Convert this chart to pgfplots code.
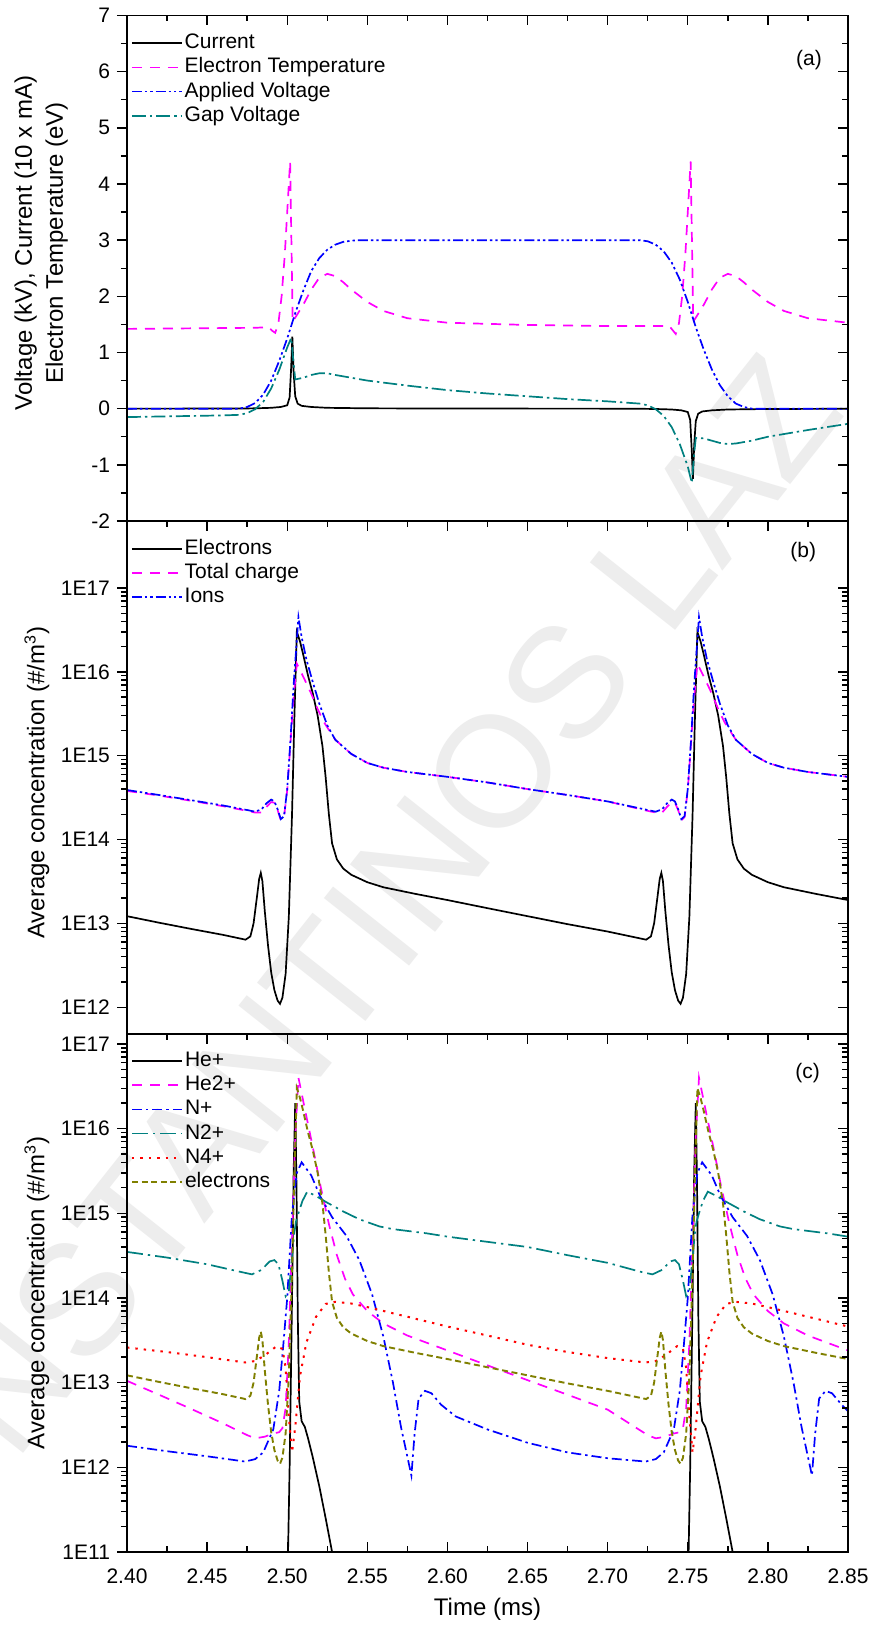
\documentclass[border=0pt]{standalone}
\usepackage{fontspec}
\setmainfont{Liberation Sans}
\usepackage{pgfplots}
\pgfplotsset{compat=1.18}

\definecolor{cmag}{RGB}{255,0,255}
\definecolor{cblue}{RGB}{0,0,255}
\definecolor{cteal}{RGB}{0,128,128}
\definecolor{cred}{RGB}{255,0,0}
\definecolor{colive}{RGB}{128,128,0}

\pgfplotsset{
  panel/.style={
    scale only axis, width=360.5pt, anchor=north west,
    xmin=2.40, xmax=2.85,
    xtick={2.40,2.45,2.50,2.55,2.60,2.65,2.70,2.75,2.80,2.85},
    minor x tick num=1,
    axis line style={line width=0.75pt},
    major tick length=5pt, minor tick length=3pt,
    tick style={black, line width=0.7pt},
    tick label style={font=\fontsize{10.5}{12}\selectfont},
    /pgf/number format/assume math mode=true,
    label style={font=\fontsize{12}{15.5}\selectfont},
  },
  mainax/.style={panel, tick align=outside, xtick=\empty, ytick pos=left,
    legend cell align=left,
    legend style={draw=none, fill=none, anchor=north west, inner sep=0pt, row sep=0pt,
      font=\fontsize{10.5}{12}\selectfont,
      nodes={inner sep=1pt, text height=7.8pt, text depth=2.3pt}},
    legend image code/.code={\draw[##1] (0pt,0pt) -- (25pt,0pt);},
  },
  frameax/.style={panel, tick align=inside, ytick pos=right, yticklabels={}},
  sblack/.style={black, line width=0.85pt},
  smag/.style={cmag, line width=0.85pt, dash pattern=on 5pt off 4pt},
  sddot/.style={cblue, line width=0.85pt, dash pattern=on 5pt off 1.5pt on 1.2pt off 1.5pt on 1.2pt off 1.5pt},
  steal/.style={cteal, line width=0.85pt, dash pattern=on 7pt off 2pt on 1.2pt off 2pt},
  sbluedd/.style={cblue, line width=0.85pt, dash pattern=on 5pt off 2pt on 1.2pt off 2pt},
  steal2/.style={cteal, line width=0.85pt, dash pattern=on 8pt off 2.5pt on 1.2pt off 2.5pt},
  sred/.style={cred, line width=1pt, dash pattern=on 1.2pt off 3pt},
  solive/.style={colive, line width=0.95pt, dash pattern=on 3pt off 1.8pt},
}

\begin{document}
\begin{tikzpicture}
\useasboundingbox (0,0) rectangle (436pt,-816.5pt);
\fill[white] (0,0) rectangle (436pt,-816.5pt);
\node[rotate=51.6, text=black!7, font=\fontsize{79}{79}\selectfont, anchor=center]
  at (159pt,-497pt) {KONSTANTINOS LAZ};

% ---------------- (a) voltages, current, electron temperature
\begin{axis}[mainax, at={(63.5pt,-7.75pt)}, height=252.75pt,
  ymin=-2, ymax=7, ytick={-2,-1,0,1,2,3,4,5,6,7}, minor y tick num=1,
  ylabel={Voltage (kV), Current (10 x mA)\\Electron Temperature (eV)},
  ylabel style={at={(axis description cs:-0.119,0.55)}, anchor=center, align=center},
  legend style={at={(axis description cs:0.005,0.970)}}]
\addplot[sblack] coordinates {
 (2.400,0) (2.470,0.002) (2.480,0.006) (2.490,0.015) (2.496,0.03) (2.500,0.06)
 (2.5015,0.2) (2.5025,0.75) (2.5032,1.28) (2.5040,0.65) (2.5050,0.22) (2.5065,0.09)
 (2.509,0.05) (2.515,0.03) (2.525,0.015) (2.550,0.006) (2.600,0.002) (2.700,0)
 (2.720,-0.002) (2.730,-0.006) (2.740,-0.015) (2.746,-0.03) (2.750,-0.06)
 (2.7515,-0.2) (2.7525,-0.75) (2.7532,-1.25) (2.7540,-0.65) (2.7550,-0.22) (2.7565,-0.09)
 (2.759,-0.05) (2.765,-0.03) (2.775,-0.015) (2.800,-0.006) (2.850,-0.002)};
\addlegendentry{Current}
\addplot[smag] coordinates {
 (2.400,1.42) (2.440,1.43) (2.480,1.44) (2.4885,1.45) (2.4905,1.39) (2.4925,1.35)
 (2.4945,1.52) (2.4965,2.00) (2.4985,2.75) (2.5002,3.60) (2.5018,4.40) (2.5026,3.00)
 (2.5034,1.55) (2.5050,1.62) (2.510,1.85) (2.515,2.12) (2.520,2.33) (2.525,2.40)
 (2.530,2.36) (2.535,2.25) (2.540,2.12) (2.550,1.90) (2.560,1.74) (2.575,1.61)
 (2.600,1.53) (2.650,1.49) (2.700,1.47) (2.7385,1.47) (2.7405,1.40) (2.7425,1.33)
 (2.7445,1.52) (2.7465,2.00) (2.7485,2.75) (2.7502,3.60) (2.7518,4.40) (2.7526,3.00)
 (2.7534,1.55) (2.7550,1.62) (2.760,1.85) (2.765,2.12) (2.770,2.33) (2.775,2.40)
 (2.780,2.36) (2.785,2.25) (2.790,2.12) (2.800,1.90) (2.810,1.74) (2.825,1.61) (2.850,1.53)};
\addlegendentry{Electron Temperature}
\addplot[sddot] coordinates {
 (2.400,0) (2.470,0) (2.475,0.03) (2.480,0.10) (2.485,0.25) (2.490,0.50) (2.495,0.85)
 (2.500,1.25) (2.505,1.70) (2.510,2.10) (2.515,2.45) (2.520,2.68) (2.525,2.83)
 (2.530,2.92) (2.535,2.97) (2.540,2.99) (2.545,3.00) (2.720,3.00) (2.725,2.98)
 (2.730,2.92) (2.735,2.80) (2.740,2.60) (2.745,2.30) (2.750,1.90) (2.755,1.45)
 (2.760,1.05) (2.765,0.70) (2.770,0.42) (2.775,0.22) (2.780,0.09) (2.785,0.03)
 (2.790,0) (2.850,0)};
\addlegendentry{Applied Voltage}
\addplot[steal] coordinates {
 (2.400,-0.15) (2.420,-0.14) (2.440,-0.13) (2.460,-0.12) (2.470,-0.11) (2.475,-0.08)
 (2.480,-0.01) (2.485,0.12) (2.490,0.36) (2.495,0.69) (2.500,1.09) (2.5025,1.26)
 (2.5040,0.80) (2.5050,0.52) (2.510,0.55) (2.515,0.60) (2.520,0.63) (2.525,0.63)
 (2.530,0.60) (2.540,0.55) (2.550,0.50) (2.575,0.41) (2.600,0.33) (2.625,0.27)
 (2.650,0.22) (2.675,0.17) (2.700,0.13) (2.715,0.10) (2.720,0.09) (2.725,0.06)
 (2.730,-0.01) (2.735,-0.13) (2.740,-0.33) (2.745,-0.63) (2.750,-1.03) (2.7525,-1.32)
 (2.7540,-0.80) (2.7550,-0.52) (2.760,-0.53) (2.765,-0.57) (2.770,-0.61) (2.775,-0.63)
 (2.780,-0.62) (2.790,-0.57) (2.800,-0.50) (2.825,-0.38) (2.850,-0.27)};
\addlegendentry{Gap Voltage}
\node[font=\fontsize{10.5}{12}\selectfont] at (axis description cs:0.946,0.912) {(a)};
\end{axis}
\begin{axis}[frameax, at={(63.5pt,-7.75pt)}, height=252.75pt,
  ymin=-2, ymax=7, ytick={-2,-1,0,1,2,3,4,5,6,7}, minor y tick num=1,
  xtick pos=right, xticklabels={}]
\end{axis}

% ---------------- (b) electrons, total charge, ions
\begin{axis}[mainax, at={(63.5pt,-260.5pt)}, height=256.5pt,
  ymode=log, ymin=4.8e11, ymax=6.3e17,
  ytick={1e12,1e13,1e14,1e15,1e16,1e17},
  yticklabels={1E12,1E13,1E14,1E15,1E16,1E17},
  ylabel={Average concentration (\#/m\textsuperscript{3})},
  ylabel style={at={(axis description cs:-0.125,0.49)}, anchor=center},
  legend style={at={(axis description cs:0.005,0.970)}}]
\addplot[sblack] coordinates {
 (2.400,1.22e13) (2.420,1.02e13) (2.440,8.6e12) (2.460,7.3e12) (2.474,6.4e12)
 (2.477,7.0e12) (2.479,1.0e13) (2.481,2.0e13) (2.4825,3.4e13) (2.4835,4.0e13)
 (2.4845,3.2e13) (2.486,1.4e13) (2.488,5.5e12) (2.490,2.6e12) (2.492,1.6e12)
 (2.494,1.2e12) (2.4955,1.1e12) (2.497,1.3e12) (2.499,2.5e12) (2.501,1.2e13)
 (2.503,2e14) (2.5045,3e15) (2.506,3e16) (2.508,2.3e16) (2.510,1.6e16) (2.513,9e15)
 (2.516,5.5e15) (2.519,3e15) (2.522,1.3e15) (2.524,5.5e14) (2.526,2e14) (2.528,9e13)
 (2.531,5.8e13) (2.535,4.5e13) (2.540,3.8e13) (2.550,3.1e13) (2.560,2.7e13)
 (2.580,2.25e13) (2.600,1.9e13) (2.625,1.52e13) (2.650,1.22e13) (2.675,9.8e12)
 (2.700,8.0e12) (2.724,6.4e12)
 (2.727,7.0e12) (2.729,1.0e13) (2.731,2.0e13) (2.7325,3.4e13) (2.7335,4.0e13)
 (2.7345,3.2e13) (2.736,1.4e13) (2.738,5.5e12) (2.740,2.6e12) (2.742,1.6e12)
 (2.744,1.2e12) (2.7455,1.1e12) (2.747,1.3e12) (2.749,2.5e12) (2.751,1.2e13)
 (2.753,2e14) (2.7545,3e15) (2.756,3e16) (2.758,2.3e16) (2.760,1.6e16) (2.763,9e15)
 (2.766,5.5e15) (2.769,3e15) (2.772,1.3e15) (2.774,5.5e14) (2.776,2e14) (2.778,9e13)
 (2.781,5.8e13) (2.785,4.5e13) (2.790,3.8e13) (2.800,3.1e13) (2.810,2.7e13)
 (2.830,2.25e13) (2.850,1.9e13)};
\addlegendentry{Electrons}
\addplot[smag] coordinates {
 (2.400,3.8e14) (2.420,3.35e14) (2.440,2.9e14) (2.460,2.5e14) (2.475,2.2e14)
 (2.480,2.1e14) (2.484,2.1e14) (2.487,2.45e14) (2.490,2.8e14) (2.492,2.75e14)
 (2.494,2.25e14) (2.496,1.7e14) (2.498,1.85e14) (2.500,3.9e14) (2.502,1.4e15)
 (2.504,5e15) (2.506,1.25e16) (2.508,1.05e16) (2.511,8e15) (2.515,5.5e15)
 (2.519,3.6e15) (2.523,2.5e15) (2.527,1.9e15) (2.530,1.55e15) (2.540,1.05e15)
 (2.550,8.2e14) (2.560,7.2e14) (2.575,6.4e14) (2.600,5.6e14) (2.625,4.8e14)
 (2.650,4.0e14) (2.675,3.4e14) (2.700,2.85e14) (2.725,2.2e14)
 (2.730,2.1e14) (2.734,2.1e14) (2.737,2.45e14) (2.740,2.8e14) (2.742,2.75e14)
 (2.744,2.25e14) (2.746,1.7e14) (2.748,1.85e14) (2.750,3.9e14) (2.752,1.4e15)
 (2.754,5e15) (2.756,1.25e16) (2.758,1.05e16) (2.761,8e15) (2.765,5.5e15)
 (2.769,3.6e15) (2.773,2.5e15) (2.777,1.9e15) (2.780,1.55e15) (2.790,1.05e15)
 (2.800,8.2e14) (2.810,7.2e14) (2.825,6.4e14) (2.850,5.6e14)};
\addlegendentry{Total charge}
\addplot[sddot] coordinates {
 (2.400,3.9e14) (2.420,3.4e14) (2.440,2.95e14) (2.460,2.55e14) (2.475,2.25e14)
 (2.480,2.15e14) (2.484,2.3e14) (2.487,2.7e14) (2.490,3.0e14) (2.492,2.85e14)
 (2.494,2.3e14) (2.496,1.75e14) (2.498,1.9e14) (2.500,4e14) (2.502,1.5e15)
 (2.504,7e15) (2.507,4.5e16) (2.509,2.6e16) (2.512,1.4e16) (2.516,7.5e15)
 (2.520,4.2e15) (2.525,2.3e15) (2.530,1.55e15) (2.540,1.05e15) (2.550,8.2e14)
 (2.560,7.2e14) (2.575,6.4e14) (2.600,5.6e14) (2.625,4.8e14) (2.650,4.0e14)
 (2.675,3.4e14) (2.700,2.85e14) (2.725,2.25e14)
 (2.730,2.15e14) (2.734,2.3e14) (2.737,2.7e14) (2.740,3.0e14) (2.742,2.85e14)
 (2.744,2.3e14) (2.746,1.75e14) (2.748,1.9e14) (2.750,4e14) (2.752,1.5e15)
 (2.754,7e15) (2.757,4.5e16) (2.759,2.6e16) (2.762,1.4e16) (2.766,7.5e15)
 (2.770,4.2e15) (2.775,2.3e15) (2.780,1.55e15) (2.790,1.05e15) (2.800,8.2e14)
 (2.810,7.2e14) (2.825,6.4e14) (2.850,5.6e14)};
\addlegendentry{Ions}
\node[font=\fontsize{10.5}{12}\selectfont] at (axis description cs:0.938,0.939) {(b)};
\end{axis}
\begin{axis}[frameax, at={(63.5pt,-260.5pt)}, height=256.5pt,
  ymode=log, ymin=4.8e11, ymax=6.3e17,
  ytick={1e12,1e13,1e14,1e15,1e16,1e17},
  xtick pos=right, xticklabels={}]
\end{axis}

% ---------------- (c) species densities
\begin{axis}[mainax, at={(63.5pt,-517pt)}, height=259pt,
  ymode=log, ymin=1e11, ymax=1.31e17,
  ytick={1e11,1e12,1e13,1e14,1e15,1e16,1e17},
  yticklabels={1E11,1E12,1E13,1E14,1E15,1E16,1E17},
  xlabel={Time (ms)},
  xlabel style={at={(axis description cs:0.5,-0.110)}, anchor=center},
  ylabel={Average concentration (\#/m\textsuperscript{3})},
  ylabel style={at={(axis description cs:-0.125,0.5)}, anchor=center},
  legend style={at={(axis description cs:0.005,0.972)}}]
\addplot[sblack] coordinates {
 (2.5000,3e10) (2.5015,1e12) (2.5030,1e14) (2.5040,3e15) (2.5050,2e16) (2.5058,2e15)
 (2.5066,6e13) (2.5075,6e12) (2.5090,3.5e12) (2.5110,3e12) (2.5130,2.2e12)
 (2.5160,1.3e12) (2.5200,6e11) (2.5240,2.5e11) (2.5280,1.0e11) (2.5300,7e10)};
\addlegendentry{He+}
\addplot[sblack, forget plot] coordinates {
 (2.7500,3e10) (2.7515,1e12) (2.7530,1e14) (2.7540,3e15) (2.7550,2e16) (2.7558,2e15)
 (2.7566,6e13) (2.7575,6e12) (2.7590,3.5e12) (2.7610,3e12) (2.7630,2.2e12)
 (2.7660,1.3e12) (2.7700,6e11) (2.7740,2.5e11) (2.7780,1.0e11) (2.7800,7e10)};
\addplot[smag] coordinates {
 (2.400,1.05e13) (2.420,7.2e12) (2.440,4.9e12) (2.460,3.3e12) (2.475,2.4e12)
 (2.480,2.2e12) (2.486,2.3e12) (2.491,2.5e12) (2.495,2.6e12) (2.497,2.9e12)
 (2.499,5e12) (2.501,3e13) (2.503,5e14) (2.505,8e15) (2.507,4e16) (2.511,1.7e16)
 (2.516,6e15) (2.521,2e15) (2.526,7.5e14) (2.531,3.2e14) (2.536,1.7e14)
 (2.541,1.1e14) (2.550,7e13) (2.560,5e13) (2.575,3.6e13) (2.600,2.4e13)
 (2.625,1.6e13) (2.650,1.07e13) (2.675,7.2e12) (2.700,4.8e12) (2.725,2.4e12)
 (2.730,2.2e12) (2.736,2.3e12) (2.741,2.5e12) (2.745,2.6e12) (2.747,2.9e12)
 (2.749,5e12) (2.751,3e13) (2.753,5e14) (2.755,8e15) (2.757,4e16) (2.761,1.7e16)
 (2.766,6e15) (2.771,2e15) (2.776,7.5e14) (2.781,3.2e14) (2.786,1.7e14)
 (2.791,1.1e14) (2.800,7e13) (2.810,5e13) (2.825,3.6e13) (2.850,2.4e13)};
\addlegendentry{He2+}
\addplot[sbluedd] coordinates {
 (2.400,1.8e12) (2.425,1.55e12) (2.450,1.35e12) (2.4737,1.17e12) (2.480,1.25e12)
 (2.485,1.5e12) (2.4913,2.8e12) (2.495,8e12) (2.4975,2.7e13) (2.500,1e14)
 (2.503,1e15) (2.506,3e15) (2.509,4e15) (2.515,2.8e15) (2.5205,1.6e15) (2.528,9e14)
 (2.537,5.4e14) (2.545,2.8e14) (2.553,1.1e14) (2.560,3.5e13) (2.566,1e13)
 (2.571,3e12) (2.5775,8e11) (2.5795,2.5e12) (2.582,6.5e12) (2.586,8e12)
 (2.590,7.5e12) (2.596,5.5e12) (2.605,4e12) (2.625,2.8e12) (2.650,1.95e12)
 (2.675,1.5e12) (2.700,1.28e12) (2.7237,1.17e12)
 (2.730,1.25e12) (2.735,1.5e12) (2.7413,2.8e12) (2.745,8e12) (2.7475,2.7e13)
 (2.750,1e14) (2.753,1e15) (2.756,3e15) (2.759,4e15) (2.765,2.8e15) (2.7705,1.6e15)
 (2.778,9e14) (2.787,5.4e14) (2.795,2.8e14) (2.803,1.1e14) (2.810,3.5e13)
 (2.816,1e13) (2.821,3e12) (2.8275,8e11) (2.8295,2.5e12) (2.832,6.5e12)
 (2.836,8e12) (2.840,7.5e12) (2.846,5.5e12) (2.850,4.6e12)};
\addlegendentry{N+}
\addplot[steal2] coordinates {
 (2.400,3.5e14) (2.425,3.0e14) (2.450,2.5e14) (2.470,2.05e14) (2.478,1.9e14)
 (2.484,2.15e14) (2.489,2.7e14) (2.492,2.8e14) (2.4945,2.5e14) (2.497,1.6e14)
 (2.499,1.05e14) (2.501,1.2e14) (2.503,3e14) (2.5045,6e14) (2.5055,8e14)
 (2.507,1.0e15) (2.5095,1.4e15) (2.5125,1.8e15) (2.518,1.6e15) (2.5245,1.35e15)
 (2.535,1.05e15) (2.545,8.5e14) (2.5575,7e14) (2.566,6.5e14) (2.587,5.8e14)
 (2.600,5.3e14) (2.625,4.6e14) (2.650,4.0e14) (2.675,3.2e14) (2.700,2.6e14)
 (2.720,2.05e14) (2.728,1.9e14)
 (2.734,2.15e14) (2.739,2.7e14) (2.742,2.8e14) (2.7445,2.5e14) (2.747,1.6e14)
 (2.749,1.05e14) (2.751,1.2e14) (2.753,3e14) (2.7545,6e14) (2.7555,8e14)
 (2.757,1.0e15) (2.7595,1.4e15) (2.7625,1.8e15) (2.768,1.6e15) (2.7745,1.35e15)
 (2.785,1.05e15) (2.795,8.5e14) (2.8075,7e14) (2.816,6.5e14) (2.837,5.8e14)
 (2.850,5.3e14)};
\addlegendentry{N2+}
\addplot[sred] coordinates {
 (2.400,2.6e13) (2.425,2.3e13) (2.450,2.0e13) (2.4737,1.73e13) (2.480,1.8e13)
 (2.486,2.1e13) (2.4934,2.7e13) (2.497,2.5e13) (2.499,1.5e13) (2.501,4e12)
 (2.503,1.5e12) (2.505,3e12) (2.508,1.2e13) (2.512,3e13) (2.518,6e13)
 (2.524,8.5e13) (2.530,9e13) (2.540,8.6e13) (2.550,7.8e13) (2.575,6e13)
 (2.600,4.6e13) (2.625,3.6e13) (2.650,2.8e13) (2.675,2.3e13) (2.700,1.95e13)
 (2.7237,1.73e13)
 (2.730,1.8e13) (2.736,2.1e13) (2.7434,2.7e13) (2.747,2.5e13) (2.749,1.5e13)
 (2.751,4e12) (2.753,1.5e12) (2.755,3e12) (2.758,1.2e13) (2.762,3e13)
 (2.768,6e13) (2.774,8.5e13) (2.780,9e13) (2.790,8.6e13) (2.800,7.8e13)
 (2.825,6e13) (2.850,4.6e13)};
\addlegendentry{N4+}
\addplot[solive] coordinates {
 (2.400,1.22e13) (2.420,1.02e13) (2.440,8.6e12) (2.460,7.3e12) (2.474,6.4e12)
 (2.477,7.0e12) (2.479,1.0e13) (2.481,2.0e13) (2.4825,3.4e13) (2.4835,4.0e13)
 (2.4845,3.2e13) (2.486,1.4e13) (2.488,5.5e12) (2.490,2.6e12) (2.492,1.6e12)
 (2.494,1.2e12) (2.4955,1.1e12) (2.497,1.3e12) (2.499,2.5e12) (2.501,1.2e13)
 (2.503,2e14) (2.5045,3e15) (2.506,3e16) (2.508,2.3e16) (2.510,1.6e16) (2.513,9e15)
 (2.516,5.5e15) (2.519,3e15) (2.522,1.3e15) (2.524,5.5e14) (2.526,2e14) (2.528,9e13)
 (2.531,5.8e13) (2.535,4.5e13) (2.540,3.8e13) (2.550,3.1e13) (2.560,2.7e13)
 (2.580,2.25e13) (2.600,1.9e13) (2.625,1.52e13) (2.650,1.22e13) (2.675,9.8e12)
 (2.700,8.0e12) (2.724,6.4e12)
 (2.727,7.0e12) (2.729,1.0e13) (2.731,2.0e13) (2.7325,3.4e13) (2.7335,4.0e13)
 (2.7345,3.2e13) (2.736,1.4e13) (2.738,5.5e12) (2.740,2.6e12) (2.742,1.6e12)
 (2.744,1.2e12) (2.7455,1.1e12) (2.747,1.3e12) (2.749,2.5e12) (2.751,1.2e13)
 (2.753,2e14) (2.7545,3e15) (2.756,3e16) (2.758,2.3e16) (2.760,1.6e16) (2.763,9e15)
 (2.766,5.5e15) (2.769,3e15) (2.772,1.3e15) (2.774,5.5e14) (2.776,2e14) (2.778,9e13)
 (2.781,5.8e13) (2.785,4.5e13) (2.790,3.8e13) (2.800,3.1e13) (2.810,2.7e13)
 (2.830,2.25e13) (2.850,1.9e13)};
\addlegendentry{electrons}
\node[font=\fontsize{10.5}{12}\selectfont] at (axis description cs:0.944,0.925) {(c)};
\end{axis}
\begin{axis}[frameax, at={(63.5pt,-517pt)}, height=259pt,
  ymode=log, ymin=1e11, ymax=1.31e17,
  ytick={1e11,1e12,1e13,1e14,1e15,1e16,1e17},
  xtick pos=both, xticklabel shift=4.7pt,
  xticklabel style={/pgf/number format/.cd, fixed, fixed zerofill, precision=2}]
\end{axis}
\end{tikzpicture}
\end{document}
